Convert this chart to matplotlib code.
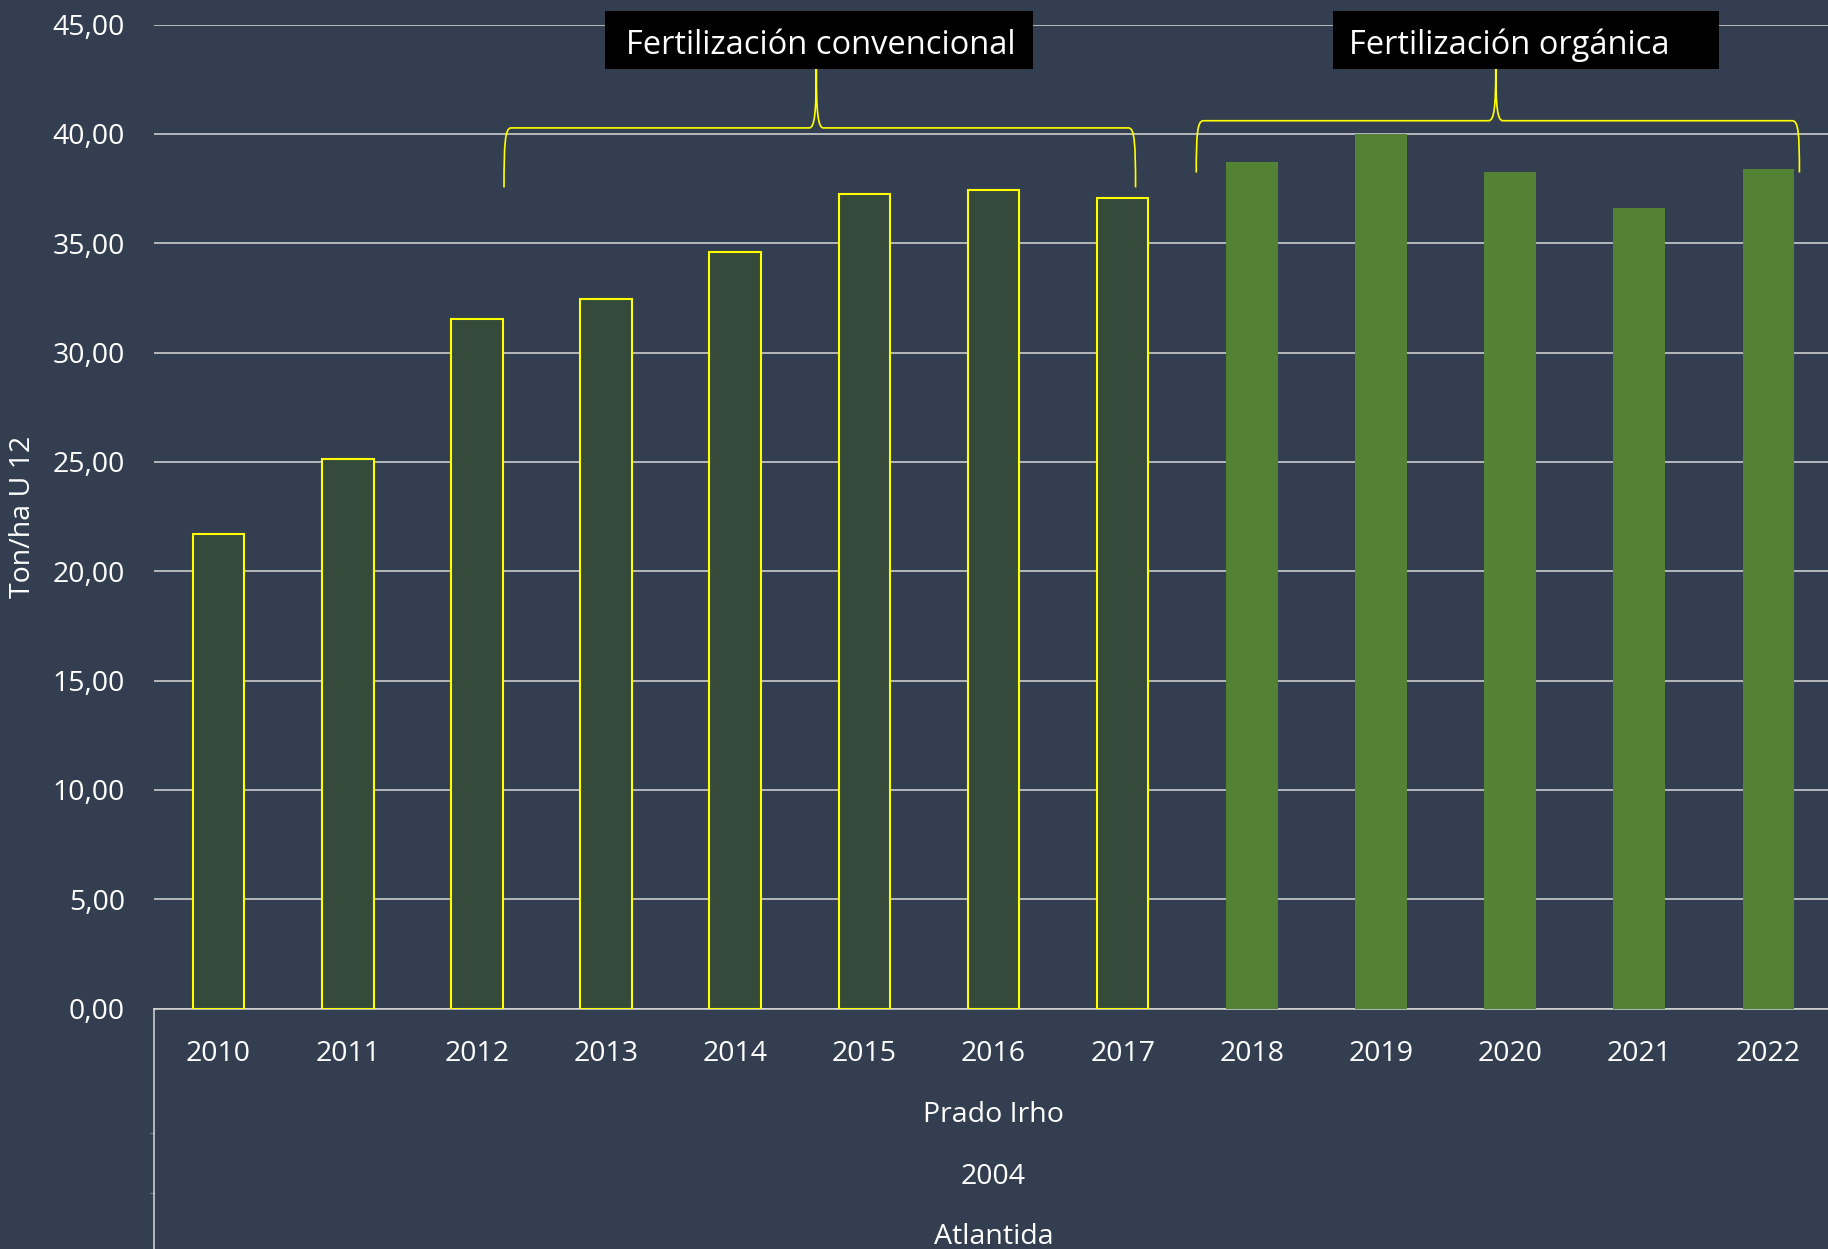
import matplotlib
matplotlib.use("Agg")
import matplotlib.pyplot as plt
from matplotlib.path import Path
from matplotlib.patches import PathPatch, Rectangle
from matplotlib.ticker import FuncFormatter
import numpy as np

plt.rcParams['font.family'] = ['Open Sans', 'DejaVu Sans']

# ---------------- data ----------------
years = ["2010", "2011", "2012", "2013", "2014", "2015", "2016",
         "2017", "2018", "2019", "2020", "2021", "2022"]
yields = [21.7, 25.15, 31.55, 32.45, 34.6, 37.25, 37.45,
          37.05, 38.7, 40.0, 38.25, 36.6, 38.4]
conventional_years = ["2010", "2011", "2012", "2013", "2014", "2015", "2016", "2017"]
organic_years = ["2018", "2019", "2020", "2021", "2022"]
group_labels = ["Prado Irho", "2004", "Atlantida"]
y_label = "Ton/ha U 12"
box_conv = "Fertilización convencional"
box_org = "Fertilización orgánica"
y_ticks = [0, 5, 10, 15, 20, 25, 30, 35, 40, 45]

# ---------------- style ----------------
BG = "#333F50"
GRID = "#D9D9D9"
CONV_FILL = "#354A3B"
YELLOW = "#FFFF00"
ORG_FILL = "#548235"
TXT = "white"
FS = 20.5

W, H = 1828, 1249
fig = plt.figure(figsize=(W / 100, H / 100), dpi=100, facecolor=BG)
ax_left, ax_right, ax_top, ax_bot = 154, 1833, 24.5, 1008.5
ax = fig.add_axes([ax_left / W, 1 - ax_bot / H, (ax_right - ax_left) / W, (ax_bot - ax_top) / H])
ax.set_facecolor(BG)

x = np.arange(len(years))
conv_mask = np.array([y in conventional_years for y in years])
org_mask = np.array([y in organic_years for y in years])
vals = np.array(yields)

ax.bar(x[conv_mask], vals[conv_mask], width=0.4, color=CONV_FILL,
       edgecolor=YELLOW, linewidth=1.5, zorder=3)
ax.bar(x[org_mask], vals[org_mask], width=0.4, color=ORG_FILL,
       edgecolor="none", zorder=3)

ax.set_xlim(-0.5, len(years) - 0.5)
ax.set_ylim(0, 45)
ax.set_yticks(y_ticks)
ax.yaxis.set_major_formatter(FuncFormatter(lambda v, p: f"{v:.2f}".replace(".", ",")))
ax.grid(axis="y", color=GRID, linewidth=1.1, zorder=0)
ax.set_axisbelow(True)
for s in ["top", "right", "left"]:
    ax.spines[s].set_visible(False)
ax.spines["bottom"].set_color(GRID)
ax.spines["bottom"].set_linewidth(1.1)
ax.tick_params(axis="y", length=0, pad=21, labelsize=FS, labelcolor=TXT)
ax.set_xticks(x)
ax.set_xticklabels(years)
ax.tick_params(axis="x", length=0, pad=22.5, labelsize=FS, labelcolor=TXT)

# y label
fig.text(23 / W, 1 - ((ax_top + ax_bot) / 2) / H, y_label, rotation=90,
         ha="center", va="center", color=TXT, fontsize=FS)

# multi-level category axis
trans = ax.get_xaxis_transform()
xc_all = x.mean()
for lab, yy in zip(group_labels, [-0.108, -0.171, -0.2325]):
    ax.text(xc_all, yy, lab, transform=trans, ha="center", va="center",
            color=TXT, fontsize=FS, clip_on=False)
ax.plot([0, 0], [0, -0.26], transform=ax.transAxes, color=GRID,
        linewidth=1.1, clip_on=False, zorder=5)
for yy in [-0.1265, -0.1875]:
    ax.plot([-0.0025, 0], [yy, yy], transform=ax.transAxes, color="#6F7A8A",
            linewidth=0.8, clip_on=False)

# braces
def brace(ax, x0, x1, xc, yb, yh, ytop, r=0.055):
    verts = [
        (x0, yb),
        (x0, yb + 0.75 * (yh - yb)), (x0 + 0.15 * r, yh), (x0 + r, yh),
        (xc - r, yh),
        (xc - 0.25 * r, yh), (xc, yh + 0.25 * (ytop - yh)), (xc, ytop),
        (xc, yh + 0.25 * (ytop - yh)), (xc + 0.25 * r, yh), (xc + r, yh),
        (x1 - r, yh),
        (x1 - 0.15 * r, yh), (x1, yb + 0.75 * (yh - yb)), (x1, yb),
    ]
    codes = [Path.MOVETO,
             Path.CURVE4, Path.CURVE4, Path.CURVE4,
             Path.LINETO,
             Path.CURVE4, Path.CURVE4, Path.CURVE4,
             Path.CURVE4, Path.CURVE4, Path.CURVE4,
             Path.LINETO,
             Path.CURVE4, Path.CURVE4, Path.CURVE4]
    ax.add_patch(PathPatch(Path(verts, codes), facecolor="none", edgecolor=YELLOW,
                           linewidth=1.2, clip_on=False, zorder=6))

brace(ax, 2.21, 7.10, 4.628, 37.55, 40.27, 43.0)
brace(ax, 7.57, 12.24, 9.889, 38.23, 40.60, 43.0)

# label boxes
ax.add_patch(Rectangle((2.994, 42.96), 6.307 - 2.994, 45.63 - 42.96, facecolor="black",
                       edgecolor="none", clip_on=False, zorder=7))
ax.text(4.665, 44.05, box_conv, ha="center", va="center", color=TXT, fontsize=23.5,
        zorder=8, clip_on=False)
ax.add_patch(Rectangle((8.626, 42.96), 11.614 - 8.626, 45.63 - 42.96, facecolor="black",
                       edgecolor="none", clip_on=False, zorder=7))
ax.text(8.755, 44.05, box_org, ha="left", va="center", color=TXT, fontsize=23.5,
        zorder=8, clip_on=False)

fig.savefig("out.png", dpi=100, facecolor=BG)
